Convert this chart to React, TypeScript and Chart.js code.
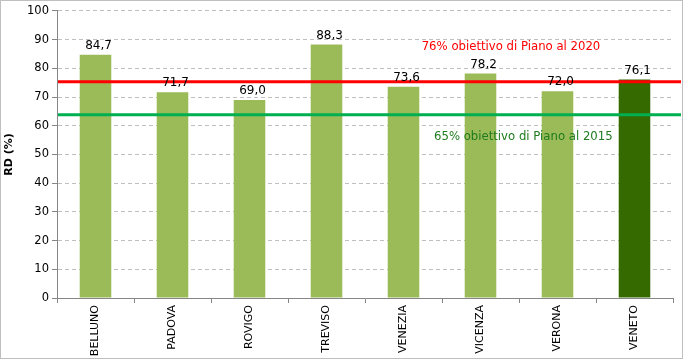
import React, { useEffect, useRef } from "react";
import { Chart, registerables } from "chart.js";

Chart.register(...registerables);

const categories = ["BELLUNO", "PADOVA", "ROVIGO", "TREVISO", "VENEZIA", "VICENZA", "VERONA", "VENETO"];
const rdValues = [84.7, 71.7, 69.0, 88.3, 73.6, 78.2, 72.0, 76.1];
const barColors = ["#9BBB59", "#9BBB59", "#9BBB59", "#9BBB59", "#9BBB59", "#9BBB59", "#9BBB59", "#356A00"];
const targetValues = [75.3, 63.8];
const targetColors = ["#FF0000", "#00B050"];
const targetLabels = ["76% obiettivo di Piano al 2020", "65% obiettivo di Piano al 2015"];
const targetLabelColors = ["#FF0000", "#1E7B1E"];
const targetLabelValues = [87.5, 56.0];
const targetLabelX = [0.737, 0.757];
const yTicks = [0, 10, 20, 30, 40, 50, 60, 70, 80, 90, 100];

const FONT = "DejaVu Sans";

const overlayPlugin = {
  id: "overlay",
  afterDatasetsDraw(chart: any) {
    const { ctx, chartArea, scales } = chart;
    const y = scales.y;
    ctx.save();
    targetValues.forEach((v, i) => {
      const py = y.getPixelForValue(v);
      ctx.strokeStyle = targetColors[i];
      ctx.lineWidth = 3;
      ctx.beginPath();
      ctx.moveTo(chartArea.left + 1, py);
      ctx.lineTo(chartArea.right + 8, py);
      ctx.stroke();
    });
    ctx.font = `11.7px ${FONT}`;
    ctx.textAlign = "center";
    ctx.textBaseline = "middle";
    targetLabels.forEach((t, i) => {
      ctx.fillStyle = targetLabelColors[i];
      const px = chartArea.left + chartArea.width * targetLabelX[i];
      ctx.fillText(t, px, y.getPixelForValue(targetLabelValues[i]));
    });
    const meta = chart.getDatasetMeta(0);
    ctx.fillStyle = "#000";
    ctx.font = `12px ${FONT}`;
    ctx.textBaseline = "bottom";
    meta.data.forEach((bar: any, i: number) => {
      ctx.fillText(rdValues[i].toFixed(1).replace(".", ","), bar.x + 3, bar.y - 3);
    });
    ctx.restore();
  },
};

export default function App() {
  const ref = useRef<HTMLCanvasElement>(null);
  useEffect(() => {
    document.body.style.margin = "0";
    const chart = new Chart(ref.current!, {
      type: "bar",
      data: {
        labels: categories,
        datasets: [
          {
            data: rdValues,
            backgroundColor: barColors,
            barPercentage: 0.41,
            categoryPercentage: 1,
          },
        ],
      },
      options: {
        animation: false,
        responsive: false,
        maintainAspectRatio: false,
        layout: { padding: { top: 7, right: 9, left: 0, bottom: 0 } },
        plugins: { legend: { display: false }, tooltip: { enabled: false } },
        scales: {
          x: {
            grid: { offset: true, drawOnChartArea: false, tickLength: 5, color: "#868686" },
            border: { color: "#868686" },
            ticks: {
              minRotation: 90,
              maxRotation: 90,
              autoSkip: false,
              color: "#000",
              font: { family: FONT, size: 11 },
              padding: 2,
            },
            afterFit: (s: any) => {
              s.height = 60;
            },
          },
          y: {
            min: 0,
            max: 100,
            afterBuildTicks: (s: any) => {
              s.ticks = yTicks.map((v) => ({ value: v }));
            },
            grid: {
              color: "#BFBFBF",
              tickLength: 5,
              tickColor: "#868686",
              tickBorderDash: [],
            },
            border: { color: "#868686", dash: [4, 3] },
            ticks: { color: "#000", font: { family: FONT, size: 11.5 }, padding: 3 },
            title: {
              display: true,
              text: "RD (%)",
              color: "#000",
              font: { family: FONT, size: 11, weight: "bold" },
              padding: { top: 2, bottom: 4 },
            },
            afterFit: (s: any) => {
              s.width = 56;
            },
          },
        },
      },
      plugins: [overlayPlugin],
    });
    return () => chart.destroy();
  }, []);
  return (
    <div
      style={{
        width: 683,
        height: 359,
        border: "1px solid #BFBFBF",
        boxSizing: "border-box",
        background: "#fff",
      }}
    >
      <canvas ref={ref} width={681} height={357} style={{ display: "block" }} />
    </div>
  );
}
